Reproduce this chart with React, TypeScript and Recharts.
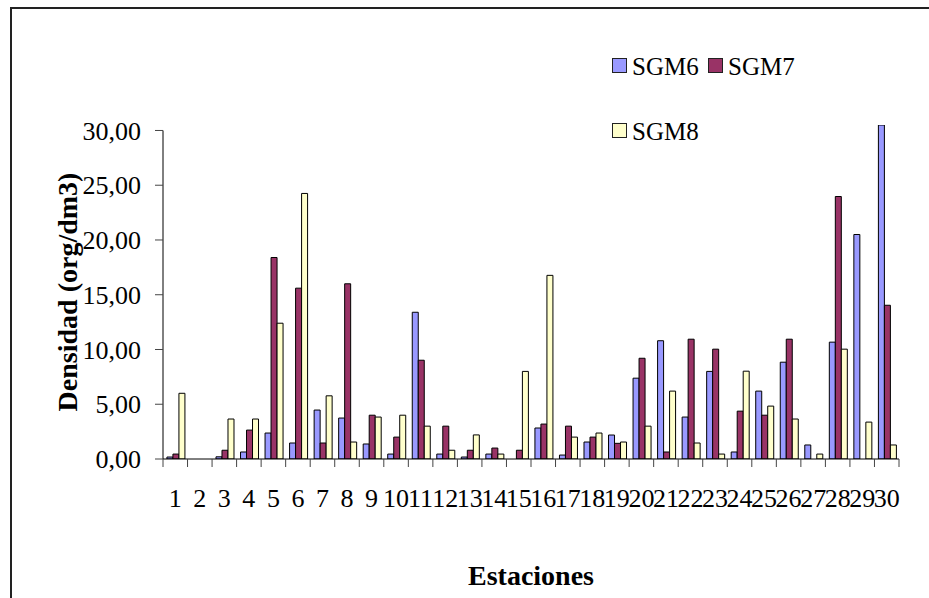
import React from 'react';
import { BarChart, Bar, XAxis, YAxis, Legend } from 'recharts';

const categories = ['1','2','3','4','5','6','7','8','9','10','11','12','13','14','15','16','17','18','19','20','21','22','23','24','25','26','27','28','29','30'];
const sgm6 = [0.18, 0, 0.2, 0.64, 2.37, 1.46, 4.47, 3.74, 1.37, 0.45, 13.4, 0.45, 0.18, 0.45, 0, 2.83, 0.36, 1.55, 2.19, 7.38, 10.8, 3.83, 8.0, 0.64, 6.2, 8.84, 1.28, 10.67, 20.5, 30.5];
const sgm7 = [0.45, 0, 0.8, 2.64, 18.4, 15.6, 1.46, 16.0, 4.0, 2.0, 9.02, 3.0, 0.8, 1.0, 0.8, 3.19, 3.0, 2.0, 1.43, 9.2, 0.64, 10.94, 10.03, 4.37, 4.0, 10.94, 0, 23.97, 0, 14.04];
const sgm8 = [6.0, 0, 3.65, 3.65, 12.4, 24.25, 5.77, 1.55, 3.83, 4.0, 3.0, 0.8, 2.2, 0.45, 8.0, 16.77, 2.0, 2.37, 1.55, 3.0, 6.2, 1.46, 0.45, 8.02, 4.83, 3.65, 0.45, 10.03, 3.37, 1.28];
const seriesNames = ['SGM6', 'SGM7', 'SGM8'];
const yTicks = [0, 5, 10, 15, 20, 25, 30];
const yTitle = 'Densidad (org/dm3)';
const xTitle = 'Estaciones';

const data = categories.map((c, i) => ({ name: c, SGM6: sgm6[i], SGM7: sgm7[i], SGM8: sgm8[i] }));

const FONT = 'Liberation Serif';
const X_TICK_SIZE = 8;
const X_TICK_MARGIN = 22;
const TICK_COLOR = '#444';

const XTick = (props: any) => {
  const { x, y, payload, index } = props;
  const half = payload && typeof payload.offset === 'number' && payload.offset > 0 ? payload.offset : 12.27;
  const axisY = y - X_TICK_SIZE - X_TICK_MARGIN;
  return (
    <g>
      <line x1={x - half} x2={x - half} y1={axisY} y2={axisY + X_TICK_SIZE} stroke={TICK_COLOR} strokeWidth={1} />
      {index === categories.length - 1 ? (
        <line x1={x + half} x2={x + half} y1={axisY} y2={axisY + X_TICK_SIZE} stroke={TICK_COLOR} strokeWidth={1} />
      ) : null}
      <text x={x} y={y} dy="0.71em" textAnchor="middle" fontSize={26} fontFamily={FONT} fill="#000">
        {payload.value}
      </text>
    </g>
  );
};

const legendPos = [
  { x: 0, y: 0 },
  { x: 96, y: 0 },
  { x: 0, y: 65 },
];

const renderLegend = (props: any) => {
  const payload = props.payload || [];
  return (
    <svg width={220} height={100} style={{ display: 'block', overflow: 'visible' }}>
      {payload.map((entry: any, i: number) => (
        <g key={entry.value} transform={`translate(${legendPos[i].x},${legendPos[i].y})`}>
          <rect x={0.5} y={7.5} width={14} height={14} fill={entry.color} stroke="#222" strokeWidth={1} />
          <text x={20} y={15} dy="0.35em" fontFamily={FONT} fontSize={25} fill="#000">
            {entry.value}
          </text>
        </g>
      ))}
    </svg>
  );
};

const colors = ['#9999FF', '#993366', '#FFFFCC'];

export default function App() {
  return (
    <div style={{ position: 'absolute', left: 0, top: 0, width: 929, height: 598, overflow: 'hidden', background: '#fff' }}>
      <div style={{ position: 'absolute', left: 10, top: 7, width: 1000, height: 1000, border: '2px solid #222' }} />
      <div style={{ position: 'absolute', left: 0, top: 0 }}>
        <BarChart
          width={929}
          height={598}
          data={data}
          margin={{ top: 125, right: 30, bottom: 0, left: 0 }}
          barCategoryGap="16%"
          barGap={0}
        >
          <XAxis
            dataKey="name"
            interval={0}
            tickLine={false}
            tickSize={X_TICK_SIZE}
            tickMargin={X_TICK_MARGIN}
            height={139}
            axisLine={{ stroke: '#000', strokeWidth: 1 }}
            tick={<XTick />}
            label={{
              value: xTitle,
              position: 'insideTop',
              offset: 106,
              style: { fontFamily: FONT, fontSize: 28, fontWeight: 'bold', fill: '#000' },
            }}
          />
          <YAxis
            width={163}
            domain={[0, 30.5]}
            ticks={yTicks}
            allowDataOverflow
            interval={0}
            tickSize={8}
            tickMargin={14}
            tickLine={{ stroke: TICK_COLOR }}
            axisLine={{ stroke: '#000', strokeWidth: 1, strokeDasharray: '0 5.5 1000' }}
            tickFormatter={(v: number) => v.toFixed(2).replace('.', ',')}
            tick={{ fontFamily: FONT, fontSize: 26, fill: '#000' }}
            label={{
              value: yTitle,
              angle: -90,
              position: 'insideLeft',
              offset: 67,
              style: { textAnchor: 'middle', fontFamily: FONT, fontSize: 28, fontWeight: 'bold', fill: '#000' },
            }}
          />
          <Legend
            layout="horizontal"
            verticalAlign="middle"
            align="center"
            content={renderLegend}
            wrapperStyle={{ position: 'absolute', left: 612, top: 51, width: 220, height: 100 }}
          />
          {seriesNames.map((s, i) => (
            <Bar key={s} dataKey={s} name={s} fill={colors[i]} stroke="#000" strokeWidth={1} isAnimationActive={false} />
          ))}
        </BarChart>
      </div>
    </div>
  );
}
